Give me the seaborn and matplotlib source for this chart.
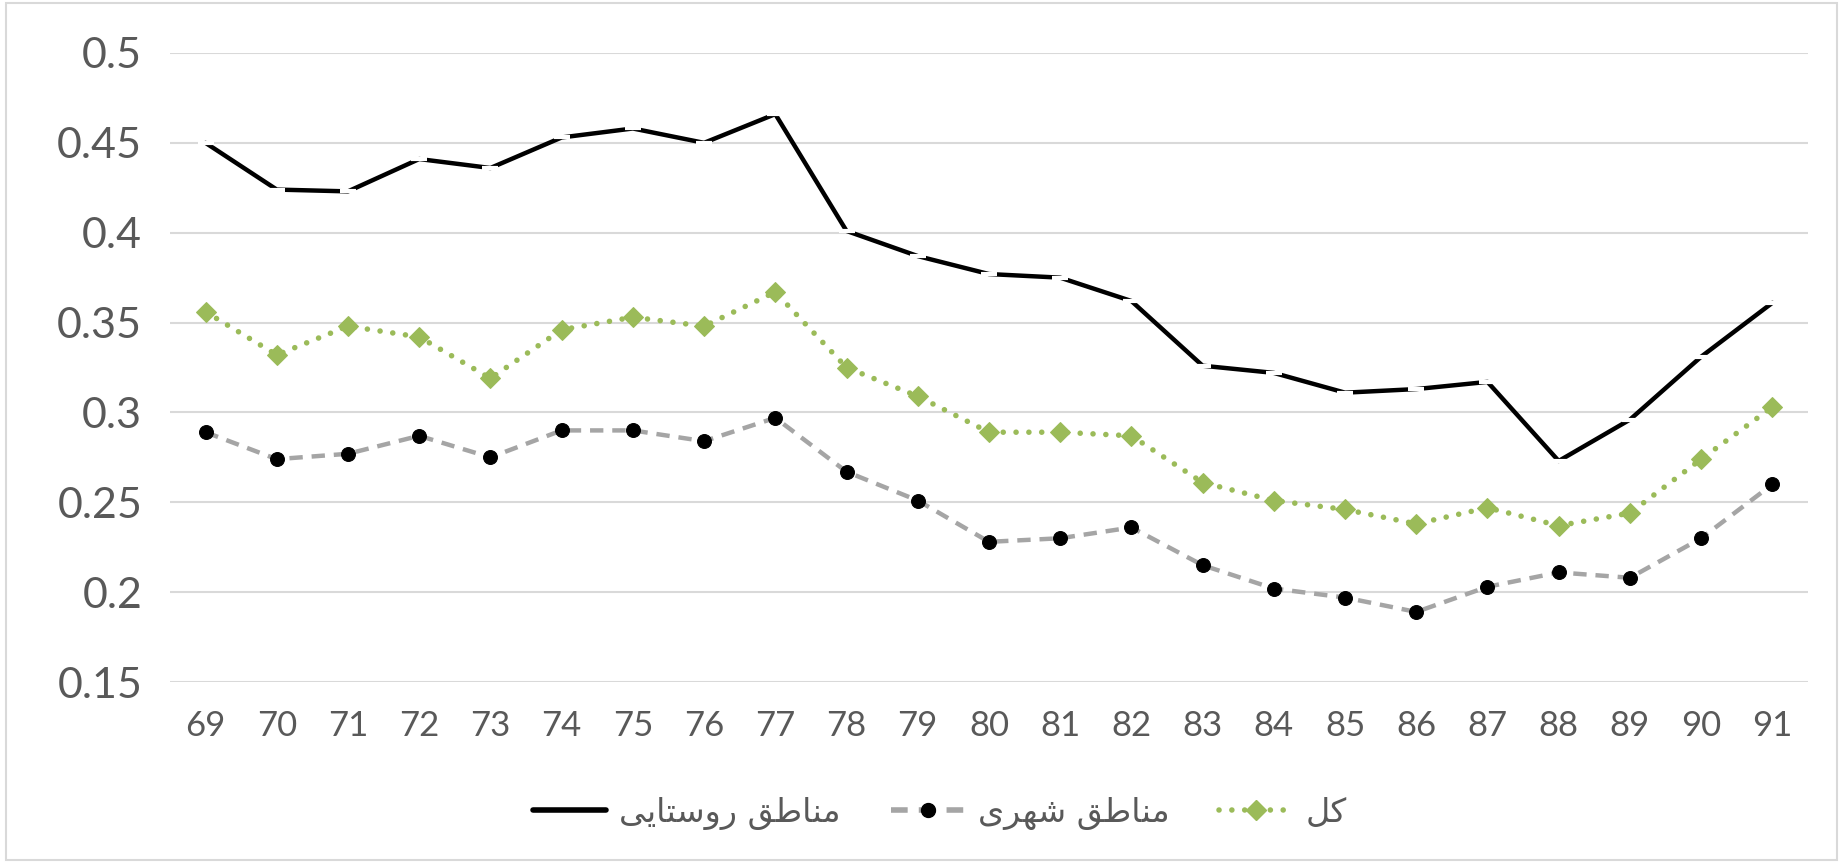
import matplotlib
matplotlib.use("Agg")
import matplotlib.pyplot as plt
import seaborn as sns
import pandas as pd
from matplotlib.patches import Rectangle
from matplotlib.lines import Line2D

years = list(range(69, 92))
year_labels = [str(y) for y in years]
rural = [0.450, 0.424, 0.423, 0.441, 0.436, 0.453, 0.458, 0.450, 0.466, 0.401,
         0.387, 0.377, 0.375, 0.362, 0.326, 0.322, 0.311, 0.313, 0.317, 0.273,
         0.296, 0.331, 0.361]
urban = [0.289, 0.274, 0.277, 0.287, 0.275, 0.290, 0.290, 0.284, 0.297, 0.267,
         0.251, 0.228, 0.230, 0.236, 0.215, 0.202, 0.197, 0.189, 0.203, 0.211,
         0.208, 0.230, 0.260]
total = [0.356, 0.332, 0.348, 0.342, 0.319, 0.346, 0.353, 0.348, 0.367, 0.325,
         0.309, 0.289, 0.289, 0.287, 0.261, 0.251, 0.246, 0.238, 0.247, 0.237,
         0.244, 0.274, 0.303]
names = ["مناطق روستایی", "مناطق شهری", "کل"]
yticks = [0.15, 0.2, 0.25, 0.3, 0.35, 0.4, 0.45, 0.5]

# --- minimal Persian shaping (matplotlib has no complex text layout) ---
FORMS = {
    "ا": ("\uFE8D", "\uFE8E"), "ر": ("\uFEAD", "\uFEAE"), "و": ("\uFEED", "\uFEEE"),
    "ت": ("\uFE95", "\uFE96", "\uFE97", "\uFE98"),
    "س": ("\uFEB1", "\uFEB2", "\uFEB3", "\uFEB4"),
    "ش": ("\uFEB5", "\uFEB6", "\uFEB7", "\uFEB8"),
    "ط": ("\uFEC1", "\uFEC2", "\uFEC3", "\uFEC4"),
    "ق": ("\uFED5", "\uFED6", "\uFED7", "\uFED8"),
    "ل": ("\uFEDD", "\uFEDE", "\uFEDF", "\uFEE0"),
    "م": ("\uFEE1", "\uFEE2", "\uFEE3", "\uFEE4"),
    "ن": ("\uFEE5", "\uFEE6", "\uFEE7", "\uFEE8"),
    "ه": ("\uFEE9", "\uFEEA", "\uFEEB", "\uFEEC"),
    "ک": ("\uFB8E", "\uFB8F", "\uFB90", "\uFB91"),
    "ی": ("\uFBFC", "\uFBFD", "\uFBFE", "\uFBFF"),
}

def shape(s):
    out = []
    for i, c in enumerate(s):
        if c not in FORMS:
            out.append(c)
            continue
        f = FORMS[c]
        prev = s[i - 1] if i > 0 else None
        nxt = s[i + 1] if i + 1 < len(s) else None
        jp = prev in FORMS and len(FORMS[prev]) == 4
        jn = len(f) == 4 and nxt in FORMS
        if jp and jn:
            out.append(f[3])
        elif jp:
            out.append(f[1])
        elif jn:
            out.append(f[2])
        else:
            out.append(f[0])
    return "".join(out[::-1])

sns.set_theme(style="white")
plt.rcParams["font.family"] = ["Lato", "DejaVu Sans"]

fig = plt.figure(figsize=(18.43, 8.63), dpi=100)
ax = fig.add_axes([0.0922, 0.2097, 0.8888, 0.7289])

df = pd.DataFrame({"year": years, "rural": rural, "urban": urban, "total": total})

for v in yticks:
    ax.axhline(v, color="#D9D9D9", lw=1.5, zorder=0)

GREY_DASH = (0, (3.0, 2.0))
GREEN_DOT = (0, (0.01, 2.3))

sns.lineplot(data=df, x="year", y="rural", ax=ax, color="black", lw=3.2,
             marker="_", markersize=12, markeredgewidth=3, legend=False)
sns.lineplot(data=df, x="year", y="urban", ax=ax, color="#A5A5A5", lw=3.2,
             marker="o", markersize=10, markerfacecolor="black", markeredgecolor="black",
             legend=False)
ax.lines[-1].set_linestyle(GREY_DASH)
sns.lineplot(data=df, x="year", y="total", ax=ax, color="#9BBB59", lw=4.0,
             marker="D", markersize=10, markerfacecolor="#9BBB59", markeredgecolor="#9BBB59",
             legend=False)
ax.lines[-1].set_linestyle(GREEN_DOT)
ax.lines[-1].set_dash_capstyle("round")

ax.set_xlim(68.5, 91.5)
ax.set_ylim(0.15, 0.5)
ax.set_xticks(years)
ax.set_xticklabels(year_labels)
ax.set_yticks(yticks)
ax.set_yticklabels([f"{v:g}" for v in yticks])
ax.tick_params(axis="y", labelsize=31, colors="#595959", length=0, pad=20)
ax.tick_params(axis="x", labelsize=25, colors="#595959", length=0, pad=20)
ax.set_xlabel("")
ax.set_ylabel("")
for sp in ax.spines.values():
    sp.set_visible(False)

h_rural = Line2D([], [], color="black", lw=4.0)
h_urban = Line2D([], [], color="#A5A5A5", lw=4.0, ls=GREY_DASH, marker="o",
                 markersize=10, markerfacecolor="black", markeredgecolor="black")
h_total = Line2D([], [], color="#9BBB59", lw=4.0, ls=GREEN_DOT, dash_capstyle="round",
                 marker="D", markersize=10, markerfacecolor="#9BBB59", markeredgecolor="#9BBB59")
leg = ax.legend(handles=[h_rural, h_urban, h_total], labels=[shape(n) for n in names],
                loc="center", bbox_to_anchor=(0.51, 0.058), bbox_transform=fig.transFigure,
                ncol=3, frameon=False, handlelength=2.2, handletextpad=0.4, columnspacing=1.5,
                prop={"family": ["DejaVu Sans"], "size": 24})
for t in leg.get_texts():
    t.set_color("#595959")

fig.patches.append(Rectangle((0.003, 0.003), 0.994, 0.994, transform=fig.transFigure,
                             fill=False, edgecolor="#D9D9D9", lw=1.5))

fig.savefig("out.png", dpi=100, facecolor="white")
